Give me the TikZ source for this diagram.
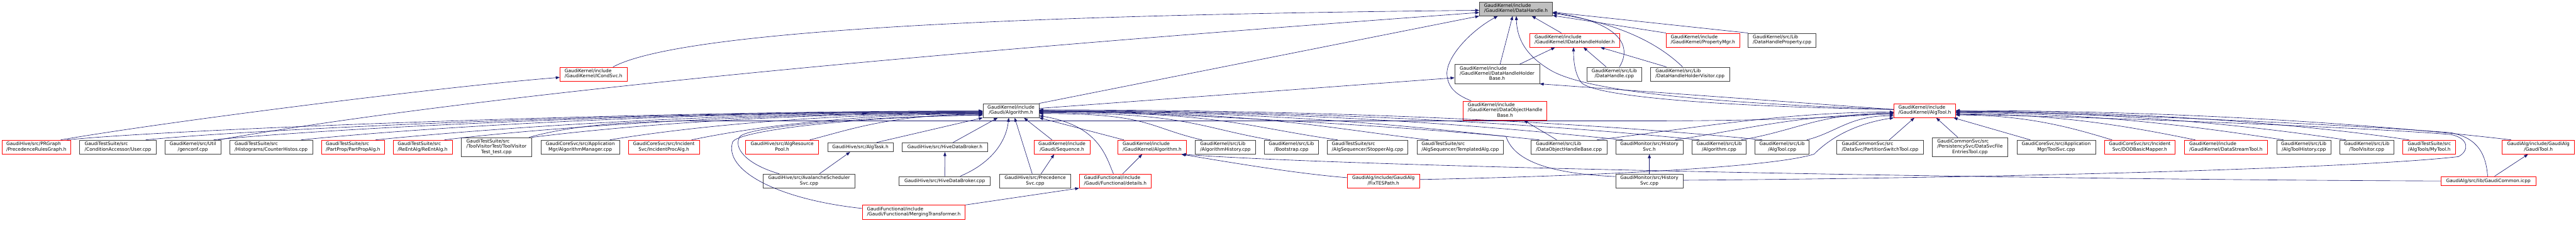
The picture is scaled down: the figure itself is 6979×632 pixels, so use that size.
\documentclass[tikz,border=0pt]{standalone}
\usepackage{fontspec}
\newfontfamily\dotfont{DejaVu Sans}
\usetikzlibrary{arrows.meta,calc}

\definecolor{edgeblue}{HTML}{191970}
\definecolor{nodeline}{HTML}{404040}
\definecolor{truncred}{HTML}{FF0000}
\definecolor{mainfill}{HTML}{BFBFBF}

% label: every line left aligned, last line centred (as dot does it)
\newcommand\twol[2]{\begin{tabular}{@{}l@{}}#1\\\multicolumn{1}{@{}c@{}}{#2}\end{tabular}}
\newcommand\threel[3]{\begin{tabular}{@{}l@{}}#1\\#2\\\multicolumn{1}{@{}c@{}}{#3}\end{tabular}}

\tikzset{
  incfile/.style={draw=nodeline, fill=white, line width=0.8pt, inner sep=0pt,
    font=\dotfont\fontsize{9.5}{10.65}\selectfont},
  truncfile/.style={incfile, draw=truncred},
  mainfile/.style={incfile, fill=mainfill},
  sz/.style 2 args={minimum width=#1*0.75pt, minimum height=#2*0.75pt},
  inc/.style={draw=edgeblue, line width=0.8pt, -{Triangle[length=8pt,width=6pt]}},
}

\begin{document}
\begin{tikzpicture}[x=0.75pt,y=-0.75pt]
  \useasboundingbox[fill=white] (0,0) rectangle (6979,632);

  % the file itself
  \node[mainfile,sz={198}{38}] (dh) at (4107,24) {\twol{GaudiKernel/include}{/GaudiKernel/DataHandle.h}};

  % upper levels
  \node[truncfile,sz={244}{38}] (idhh) at (4266,109) {\twol{GaudiKernel/include}{/GaudiKernel/IDataHandleHolder.h}};
  \node[truncfile,sz={199}{38}] (propmgr) at (4613.5,109) {\twol{GaudiKernel/include}{/GaudiKernel/PropertyMgr.h}};
  \node[incfile,sz={184}{38}] (dhprop) at (4828,109) {\twol{GaudiKernel/src/Lib}{/DataHandleProperty.cpp}};
  \node[incfile,sz={230}{52}] (dhhb) at (4056,201) {\threel{GaudiKernel/include}{/GaudiKernel/DataHandleHolder}{Base.h}};
  \node[truncfile,sz={182}{38}] (icond) at (1608,201) {\twol{GaudiKernel/include}{/GaudiKernel/ICondSvc.h}};
  \node[incfile,sz={147}{38}] (dhcpp) at (4373.5,201) {\twol{GaudiKernel/src/Lib}{/DataHandle.cpp}};
  \node[incfile,sz={215}{38}] (dhhvis) at (4578.5,201) {\twol{GaudiKernel/src/Lib}{/DataHandleHolderVisitor.cpp}};
  \node[incfile,sz={152}{38}] (galg) at (2739,300) {\twol{GaudiKernel/include}{/Gaudi/Algorithm.h}};
  \node[truncfile,sz={227}{52}] (dohb) at (4077.5,300) {\threel{GaudiKernel/include}{/GaudiKernel/DataObjectHandle}{Base.h}};
  \node[truncfile,sz={167}{38}] (algtoolh) at (5214.5,300) {\twol{GaudiKernel/include}{/GaudiKernel/AlgTool.h}};

  % long row
  \node[truncfile,sz={187}{38}] (prg) at (98.5,399) {\twol{GaudiHive/src/PRGraph}{/PrecedenceRulesGraph.h}};
  \node[incfile,sz={207}{38}] (user) at (319.5,399) {\twol{GaudiTestSuite/src}{/ConditionAccessor/User.cpp}};
  \node[incfile,sz={151}{38}] (genconf) at (522.5,399) {\twol{GaudiKernel/src/Util}{/genconf.cpp}};
  \node[incfile,sz={225}{38}] (cnthist) at (734.5,399) {\twol{GaudiTestSuite/src}{/Histograms/CounterHistos.cpp}};
  \node[truncfile,sz={171}{38}] (partprop) at (956.5,399) {\twol{GaudiTestSuite/src}{/PartProp/PartPropAlg.h}};
  \node[truncfile,sz={160}{38}] (reent) at (1145,399) {\twol{GaudiTestSuite/src}{/ReEntAlg/ReEntAlg.h}};
  \node[incfile,sz={192}{52}] (tvtest) at (1345,399) {\threel{GaudiTestSuite/src}{/ToolVisitorTest/ToolVisitor}{Test\_test.cpp}};
  \node[incfile,sz={214}{38}] (algmgr) at (1572,399) {\twol{GaudiCoreSvc/src/Application}{Mgr/AlgorithmManager.cpp}};
  \node[truncfile,sz={193}{38}] (incproc) at (1798.5,399) {\twol{GaudiCoreSvc/src/Incident}{Svc/IncidentProcAlg.h}};
  \node[truncfile,sz={198}{38}] (respool) at (2119,399) {\twol{GaudiHive/src/AlgResource}{Pool.h}};
  \node[incfile,sz={178}{25}] (algtask) at (2331,399.5) {GaudiHive/src/AlgTask.h};
  \node[incfile,sz={232}{25}] (hdbh) at (2560,399.5) {GaudiHive/src/HiveDataBroker.h};
  \node[truncfile,sz={152}{38}] (seqh) at (2877,399) {\twol{GaudiKernel/include}{/Gaudi/Sequence.h}};
  \node[truncfile,sz={185}{38}] (gkalg) at (3121.5,399) {\twol{GaudiKernel/include}{/GaudiKernel/Algorithm.h}};
  \node[incfile,sz={164}{38}] (alghist) at (3320,399) {\twol{GaudiKernel/src/Lib}{/AlgorithmHistory.cpp}};
  \node[incfile,sz={147}{38}] (boot) at (3498.5,399) {\twol{GaudiKernel/src/Lib}{/Bootstrap.cpp}};
  \node[incfile,sz={218}{38}] (stopper) at (3705,399) {\twol{GaudiTestSuite/src}{/AlgSequencer/StopperAlg.cpp}};
  \node[incfile,sz={234}{38}] (templ) at (3956,399) {\twol{GaudiTestSuite/src}{/AlgSequencer/TemplatedAlg.cpp}};
  \node[incfile,sz={205}{38}] (dohbcpp) at (4250.5,399) {\twol{GaudiKernel/src/Lib}{/DataObjectHandleBase.cpp}};
  \node[incfile,sz={183}{38}] (histh) at (4468.5,399) {\twol{GaudiMonitor/src/History}{Svc.h}};
  \node[incfile,sz={147}{38}] (algcpp) at (4657.5,399) {\twol{GaudiKernel/src/Lib}{/Algorithm.cpp}};
  \node[incfile,sz={146}{38}] (atcpp) at (4828,399) {\twol{GaudiKernel/src/Lib}{/AlgTool.cpp}};
  \node[incfile,sz={235}{38}] (pstool) at (5093.5,399) {\twol{GaudiCommonSvc/src}{/DataSvc/PartitionSwitchTool.cpp}};
  \node[incfile,sz={204}{52}] (dsfet) at (5337,399) {\threel{GaudiCommonSvc/src}{/PersistencySvc/DataSvcFile}{EntriesTool.cpp}};
  \node[incfile,sz={213}{38}] (toolsvc) at (5570.5,399) {\twol{GaudiCoreSvc/src/Application}{Mgr/ToolSvc.cpp}};
  \node[truncfile,sz={192}{38}] (dodmap) at (5797,399) {\twol{GaudiCoreSvc/src/Incident}{Svc/DODBasicMapper.h}};
  \node[truncfile,sz={225}{38}] (dstool) at (6030.5,399) {\twol{GaudiKernel/include}{/GaudiKernel/DataStreamTool.h}};
  \node[incfile,sz={147}{38}] (athist) at (6241.5,399) {\twol{GaudiKernel/src/Lib}{/AlgToolHistory.cpp}};
  \node[incfile,sz={146}{38}] (tvis) at (6412,399) {\twol{GaudiKernel/src/Lib}{/ToolVisitor.cpp}};
  \node[truncfile,sz={143}{38}] (mytool) at (6581.5,399) {\twol{GaudiTestSuite/src}{/AlgTools/MyTool.h}};
  \node[truncfile,sz={196}{38}] (gtool) at (6877,399) {\twol{GaudiAlg/include/GaudiAlg}{/GaudiTool.h}};

  % lower rows
  \node[incfile,sz={248}{38}] (avsched) at (2192,491) {\twol{GaudiHive/src/AvalancheScheduler}{Svc.cpp}};
  \node[incfile,sz={247}{25}] (hdbcpp) at (2559.5,491) {GaudiHive/src/HiveDataBroker.cpp};
  \node[incfile,sz={193}{38}] (precsvc) at (2804.5,491) {\twol{GaudiHive/src/Precedence}{Svc.cpp}};
  \node[truncfile,sz={195}{38}] (details) at (3021.5,491) {\twol{GaudiFunctional/include}{/Gaudi/Functional/details.h}};
  \node[truncfile,sz={196}{38}] (fixtes) at (3748,491) {\twol{GaudiAlg/include/GaudiAlg}{/FixTESPath.h}};
  \node[incfile,sz={183}{38}] (histcpp) at (4468.5,491) {\twol{GaudiMonitor/src/History}{Svc.cpp}};
  \node[truncfile,sz={257}{25}] (gcommon) at (6741.5,491) {GaudiAlg/src/lib/GaudiCommon.icpp};
  \node[truncfile,sz={279}{38}] (merging) at (2475.5,575.5) {\twol{GaudiFunctional/include}{/Gaudi/Functional/MergingTransformer.h}};

  % into DataHandle.h
  \draw[inc] ($(icond.north)+(53,0)$) .. controls (1850,80) and (2800,40) .. ($(dh.west)+(0,4)$);
  \draw[inc] ($(genconf.north east)+(-8,0)$) .. controls (1400,240) and (2708,129) .. ($(dh.west)+(0,10)$);
  \draw[inc] (galg.north east) -- (dh.south west);
  \draw[inc] ($(dhhb.north)+(8,0)$) -- ($(dh.south)+(-9,0)$);
  \draw[inc] ($(dohb.north)+(-92,0)$) .. controls (3940,255) and (3922,235) .. (3920,200)
    .. controls (3920,150) and (3990,80) .. ($(dh.south)+(-49,0)$);
  \draw[inc] ($(idhh.north)+(-36,0)$) -- ($(dh.south)+(43,0)$);
  \draw[inc] ($(dhcpp.north)+(14,0)$) .. controls (4425,120) and (4380,60) .. ($(dh.east)+(0,10)$);
  \draw[inc] ($(dhhvis.north)+(-20,0)$) .. controls (4500,125) and (4400,65) .. ($(dh.east)+(0,12)$);
  \draw[inc] (propmgr.north west) -- ($(dh.east)+(0,18)$);
  \draw[inc] (dhprop.north west) -- ($(dh.east)+(0,9)$);
  \draw[inc] ($(algtoolh.west)+(0,-3)$) .. controls (4650,280) and (4300,250) .. (4200,190)
    .. controls (4150,160) and (4110,120) .. ($(dh.south)+(1,0)$);

  % into IDataHandleHolder.h, DataHandleHolderBase.h, DataObjectHandleBase.h
  \draw[inc] ($(dhhb.north east)+(-55,0)$) -- ($(idhh.south)+(-53,0)$);
  \draw[inc] ($(dhcpp.north)+(-22,0)$) -- ($(idhh.south)+(24,0)$);
  \draw[inc] ($(dhhvis.north)+(-64,0)$) -- ($(idhh.south)+(70,0)$);
  \draw[inc] ($(algtoolh.west)+(0,-3)$) .. controls (4700,290) and (4330,265) .. (4285,225)
    .. controls (4265,200) and (4263,160) .. ($(idhh.south)+(-3,0)$);
  \draw[inc] ($(galg.east)+(0,-6)$) -- ($(dhhb.west)+(0,10)$);
  \draw[inc] ($(algtoolh.west)+(0,-3)$) -- (dhhb.south east);
  \draw[inc] ($(dohbcpp.north)+(-33,0)$) -- ($(dohb.south)+(51,0)$);

  % into ICondSvc.h
  \draw[inc] ($(prg.north)+(66,0)$) .. controls (450,330) and (1200,235) .. ($(icond.west)+(0,9)$);

  % into Gaudi/Algorithm.h from the left
  \draw[inc] ($(prg.north)+(82,0)$) .. controls +(300,-30) and +(-900,0) .. ($(galg.west)+(0,1)$);
  \draw[inc] ($(user.north)+(75,0)$) .. controls +(300,-30) and +(-900,0) .. ($(galg.west)+(0,2)$);
  \draw[inc] ($(genconf.north east)+(-20,0)$) .. controls +(300,-30) and +(-900,0) .. ($(galg.west)+(0,3)$);
  \draw[inc] ($(cnthist.north)+(81,0)$) .. controls +(300,-30) and +(-900,0) .. ($(galg.west)+(0,4)$);
  \draw[inc] ($(partprop.north)+(61,0)$) .. controls +(250,-25) and +(-800,0) .. ($(galg.west)+(0,5)$);
  \draw[inc] ($(reent.north)+(59,0)$) .. controls +(200,-25) and +(-700,0) .. ($(galg.west)+(0,6)$);
  \draw[inc] (tvtest.north east) .. controls +(200,-25) and +(-600,0) .. ($(galg.west)+(0,7)$);
  \draw[inc] ($(algmgr.north)+(80,0)$) .. controls +(150,-25) and +(-500,0) .. ($(galg.west)+(0,8)$);
  \draw[inc] ($(incproc.north)+(75,0)$) .. controls +(120,-25) and +(-400,0) .. ($(galg.west)+(0,9)$);
  \draw[inc] ($(respool.north)+(75,0)$) .. controls +(100,-25) and +(-250,0) .. ($(galg.west)+(0,10)$);
  \draw[inc] ($(avsched.north)+(-81,0)$) .. controls (2020,445) and (1985,400) .. (2005,370)
    .. controls (2030,345) and (2300,318) .. ($(galg.west)+(0,12)$);
  \draw[inc] ($(merging.west)+(0,-10)$) .. controls (2100,540) and (1960,460) .. (1985,385)
    .. controls (2000,355) and (2300,318) .. ($(galg.west)+(0,12)$);

  % into Gaudi/Algorithm.h from below
  \draw[inc] ($(algtask.north)+(44,0)$) -- (galg.south west);
  \draw[inc] ($(hdbh.north)+(22,0)$) -- ($(galg.south)+(-36,0)$);
  \draw[inc] ($(hdbcpp.north)+(42,0)$) .. controls (2680,445) and (2725,390) .. ($(galg.south)+(-6,0)$);
  \draw[inc] ($(precsvc.north)+(-8,0)$) -- ($(galg.south)+(10,0)$);
  \draw[inc] ($(seqh.north)+(-27,0)$) -- ($(galg.south)+(35,0)$);
  \draw[inc] ($(gkalg.north)+(-77,0)$) -- (galg.south east);

  % into Gaudi/Algorithm.h from the right
  \draw[inc] ($(details.north)+(-5,0)$) .. controls (2995,420) and (2975,340) .. ($(galg.east)+(0,14)$);
  \draw[inc] ($(alghist.north)+(-64,0)$) .. controls +(-150,-35) and +(300,0) .. ($(galg.east)+(0,8)$);
  \draw[inc] ($(boot.north)+(-57,0)$) .. controls +(-200,-35) and +(400,0) .. ($(galg.east)+(0,6)$);
  \draw[inc] ($(stopper.north)+(-81,0)$) .. controls +(-250,-35) and +(500,0) .. ($(galg.east)+(0,4)$);
  \draw[inc] ($(templ.north)+(-86,0)$) .. controls +(-300,-35) and +(600,0) .. ($(galg.east)+(0,3)$);
  \draw[inc] ($(dohbcpp.north)+(-80,0)$) .. controls +(-300,-30) and +(700,0) .. ($(galg.east)+(0,2)$);
  \draw[inc] ($(histh.north)+(-72,0)$) .. controls +(-300,-30) and +(800,0) .. ($(galg.east)+(0,1)$);
  \draw[inc] ($(algcpp.north)+(-54,0)$) .. controls +(-300,-30) and +(900,0) .. (galg.east);
  \draw[inc] ($(histcpp.west)+(0,-12)$) .. controls (4180,470) and (4100,430) .. (4080,370)
    .. controls (3700,335) and (3100,305) .. ($(galg.east)+(0,-1)$);
  \draw[inc] ($(atcpp.north)+(-54,0)$) .. controls +(-300,-30) and +(1000,0) .. ($(galg.east)+(0,-2)$);

  % short ones
  \draw[inc] ($(hdbcpp.north)$) -- (hdbh.south);
  \draw[inc] ($(avsched.north)+(28,0)$) -- ($(algtask.south)+(-28,0)$);
  \draw[inc] ($(precsvc.north)+(16,0)$) -- ($(seqh.south)+(-21,0)$);
  \draw[inc] ($(details.north)+(20,0)$) -- ($(gkalg.south)+(-27,0)$);
  \draw[inc] (merging.north east) -- (details.south west);
  \draw[inc] (histcpp.north) -- (histh.south);
  \draw[inc] ($(gcommon.north)+(17,0)$) -- ($(gtool.south)+(-28,0)$);

  % into GaudiKernel/Algorithm.h
  \draw[inc] ($(fixtes.west)+(0,-9)$) .. controls (3500,470) and (3300,435) .. ($(gkalg.south east)+(-14,0)$);
  \draw[inc] (gcommon.west) .. controls (5500,487) and (3700,455) .. ($(gkalg.south east)+(-12,0)$);

  % into GaudiKernel/AlgTool.h from the left
  \draw[inc] ($(tvtest.north east)+(-8,0)$) .. controls (1550,340) and (1700,328) .. (1900,328)
    -- (4450,328) .. controls (4800,328) and (5000,318) .. ($(algtoolh.west)+(0,6)$);
  \draw[inc] ($(dohbcpp.north)+(76,0)$) .. controls +(250,-30) and +(-300,0) .. ($(algtoolh.west)+(0,4)$);
  \draw[inc] ($(histh.north)+(70,0)$) .. controls +(200,-30) and +(-250,0) .. ($(algtoolh.west)+(0,10)$);
  \draw[inc] ($(algcpp.north)+(60,0)$) .. controls +(150,-25) and +(-200,0) .. ($(algtoolh.west)+(0,7)$);
  \draw[inc] ($(atcpp.north)+(67,0)$) .. controls +(80,-20) and +(-120,0) .. ($(algtoolh.west)+(0,14)$);
  \draw[inc] ($(fixtes.east)+(0,-4)$) .. controls (4300,478) and (4800,455) .. (4915,418)
    .. controls (4960,372) and (5030,335) .. (algtoolh.south west);
  \draw[inc] ($(pstool.north)+(25,0)$) -- ($(algtoolh.south)+(-28,0)$);

  % into GaudiKernel/AlgTool.h from the right
  \draw[inc] ($(dsfet.north)+(-33,0)$) -- ($(algtoolh.south)+(31,0)$);
  \draw[inc] ($(toolsvc.north)+(-70,0)$) -- ($(algtoolh.south east)+(-6,0)$);
  \draw[inc] ($(dodmap.north)+(-75,0)$) .. controls +(-100,-30) and +(200,0) .. ($(algtoolh.east)+(0,12)$);
  \draw[inc] ($(dstool.north)+(-83,0)$) .. controls +(-150,-30) and +(300,0) .. ($(algtoolh.east)+(0,9)$);
  \draw[inc] ($(athist.north)+(-55,0)$) .. controls +(-200,-30) and +(400,0) .. ($(algtoolh.east)+(0,6)$);
  \draw[inc] ($(tvis.north)+(-57,0)$) .. controls +(-200,-30) and +(500,0) .. ($(algtoolh.east)+(0,4)$);
  \draw[inc] ($(mytool.north)+(-55,0)$) .. controls +(-200,-30) and +(600,0) .. ($(algtoolh.east)+(0,2)$);
  \draw[inc] ($(gtool.north)+(-74,0)$) .. controls +(-250,-30) and +(700,0) .. (algtoolh.east);
  \draw[inc] ($(gcommon.north)+(-2,0)$) .. controls (6735,420) and (6715,375) .. (6640,360)
    .. controls (6400,340) and (5700,308) .. ($(algtoolh.east)+(0,1)$);
  \draw[inc] ($(histcpp.east)+(0,-2)$) .. controls (5500,482) and (6400,455) .. (6660,425)
    .. controls (6690,410) and (6690,375) .. (6640,365)
    .. controls (6400,345) and (5700,318) .. ($(algtoolh.east)+(0,10)$);
\end{tikzpicture}
\end{document}
